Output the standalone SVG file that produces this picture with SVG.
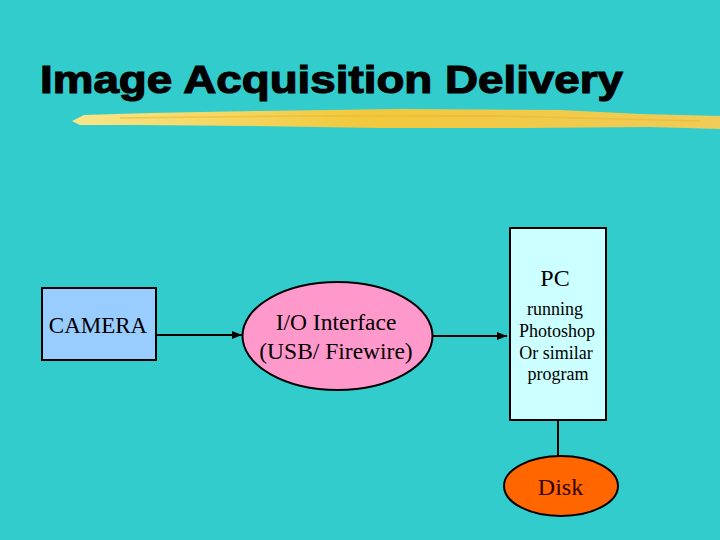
<svg xmlns="http://www.w3.org/2000/svg" width="720" height="540" viewBox="0 0 720 540">
<defs>
<style>
.t{font-family:"Liberation Serif","Times New Roman",serif;fill:#000;text-anchor:middle}
.box{stroke:#000;stroke-width:2}
.con{stroke:#000;stroke-width:2;fill:none}
</style>
<marker id="arr" viewBox="0 0 10 10" refX="10" refY="5" markerWidth="5" markerHeight="5" orient="auto" markerUnits="strokeWidth"><path d="M0,1 L10,5 L0,9 z" fill="#000"/></marker>
<linearGradient id="brush" x1="0" y1="0" x2="1" y2="0">
<stop offset="0" stop-color="#F8E68A"/><stop offset="0.45" stop-color="#F2C83C"/><stop offset="1" stop-color="#F0CC58"/>
</linearGradient>
</defs>
<rect width="720" height="540" fill="#33CCCC"/>
<text x="40" y="93" font-family="'Liberation Sans',Arial,sans-serif" font-weight="bold" font-size="39" stroke="#000" stroke-width="1.2" textLength="583" lengthAdjust="spacingAndGlyphs">Image Acquisition Delivery</text>
<path d="M72,121 L84,115 L150,113 L260,111 L400,109 L560,110 L640,114 L720,116 L720,129 L650,127 L520,128 L380,128 L250,126 L140,125 L80,125 Z" fill="url(#brush)"/>
<path d="M120,118 L300,116 L500,116 L700,121" stroke="#E8B830" stroke-width="1.5" fill="none" opacity="0.6"/>
<g id="connectors">
<line class="con" x1="157" y1="335" x2="242" y2="335" marker-end="url(#arr)"/>
<line class="con" x1="433" y1="336" x2="507" y2="336" marker-end="url(#arr)"/>
<line class="con" x1="558" y1="420" x2="558" y2="456"/>
</g>
<g id="camera">
<rect class="box" x="42" y="288" width="114" height="72" fill="#99CCFF"/>
<text class="t" x="98" y="333" font-size="23">CAMERA</text>
</g>
<g id="io">
<ellipse class="box" cx="337.5" cy="336" rx="95" ry="54" fill="#FF99CC"/>
<text class="t" x="336" y="330" font-size="23.5">I/O Interface</text>
<text class="t" x="336" y="359" font-size="23.5">(USB/ Firewire)</text>
</g>
<g id="pc">
<rect class="box" x="510" y="228" width="96" height="192" fill="#CCFFFF"/>
<text class="t" x="555" y="286" font-size="24">PC</text>
<text class="t" x="555" y="315" font-size="18">running</text>
<text class="t" x="557" y="337" font-size="18">Photoshop</text>
<text class="t" x="556" y="359" font-size="18">Or similar</text>
<text class="t" x="558" y="380" font-size="18">program</text>
</g>
<g id="disk">
<ellipse class="box" cx="561" cy="486" rx="57" ry="30" fill="#FF6600"/>
<text class="t" x="560.5" y="495" font-size="24" style="fill:#330000">Disk</text>
</g>
</svg>
